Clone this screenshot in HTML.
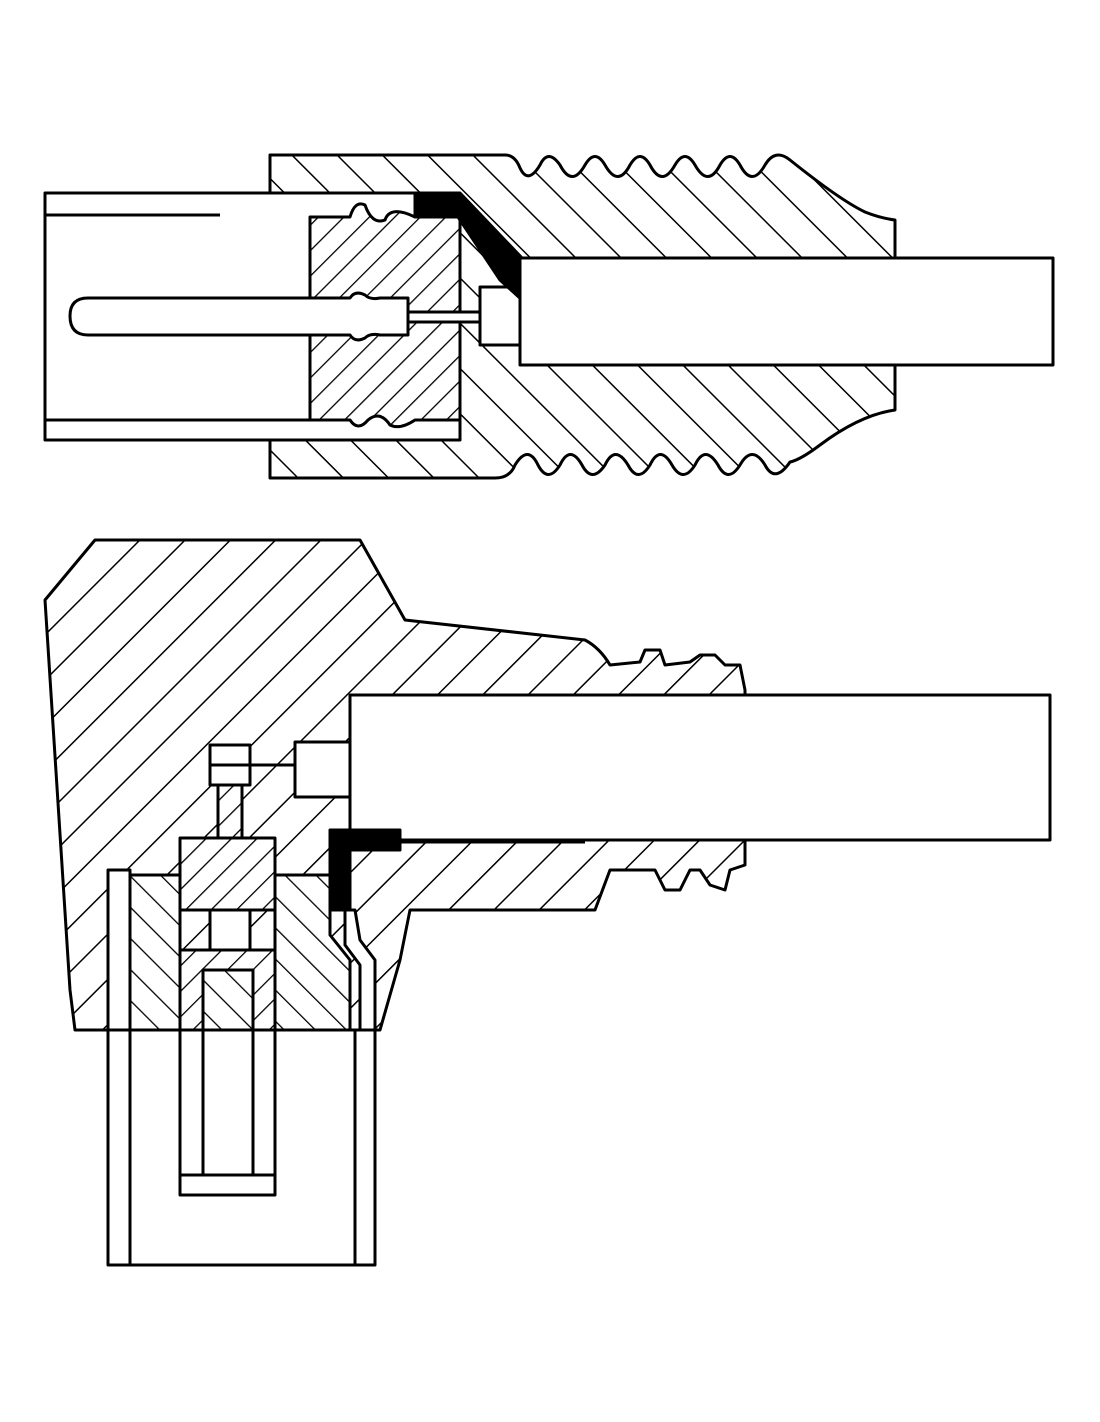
<!DOCTYPE html>
<html><head><meta charset="utf-8"><style>html,body{margin:0;padding:0;background:#fff}svg{display:block}</style></head>
<body>
<svg width="1100" height="1422" viewBox="0 0 1100 1422" xmlns="http://www.w3.org/2000/svg">
<defs>
<pattern id="bs" width="32" height="32" patternUnits="userSpaceOnUse" patternTransform="rotate(-45)"><rect width="32" height="32" fill="#fff"/><line x1="0" y1="0" x2="0" y2="32" stroke="#000" stroke-width="3"/></pattern>
<pattern id="fs" width="32" height="32" patternUnits="userSpaceOnUse" patternTransform="rotate(45)"><rect width="32" height="32" fill="#fff"/><line x1="0" y1="0" x2="0" y2="32" stroke="#000" stroke-width="3"/></pattern>
<pattern id="fs2" width="18" height="18" patternUnits="userSpaceOnUse" patternTransform="rotate(45)"><rect width="18" height="18" fill="#fff"/><line x1="0" y1="0" x2="0" y2="18" stroke="#000" stroke-width="2.6"/></pattern>
<pattern id="bs2" width="22" height="22" patternUnits="userSpaceOnUse" patternTransform="rotate(-45)"><rect width="22" height="22" fill="#fff"/><line x1="0" y1="0" x2="0" y2="22" stroke="#000" stroke-width="2.6"/></pattern>
</defs>
<g stroke="#000" stroke-width="3" stroke-linejoin="round">
<!-- TOP CONNECTOR -->
<path fill="url(#bs)" d="M270,155 L505,155 Q515,155 520,168 Q528,185 540,165 Q548,148 560,165 Q572,188 585,165 Q595,148 605,165 Q618,188 630,165 Q640,148 650,165 Q662,188 675,165 Q685,148 695,165 Q708,188 720,165 Q730,148 740,165 Q752,188 765,165 Q775,148 790,160 Q840,200 865,212 Q880,218 895,220 L895,410 Q860,415 820,445 Q800,460 790,462 Q775,484 765,465 Q752,444 740,465 Q728,484 718,465 Q705,444 695,465 Q683,484 672,465 Q660,444 650,465 Q638,484 628,465 Q615,444 605,465 Q592,484 582,465 Q570,444 560,465 Q548,484 538,465 Q528,444 515,465 Q510,478 495,478 L270,478 Z"/>
<path fill="#fff" d="M45,193 L415,193 L415,217 L460,217 L460,440 L45,440 Z"/>
<path fill="url(#fs2)" d="M310,217 L350,217 Q355,200 365,205 Q372,225 385,220 Q390,205 415,217 L460,217 L460,420 L415,420 Q400,430 390,425 Q380,410 368,420 Q358,432 350,420 L310,420 Z"/>
<path fill="#fff" d="M88,298 L350,298 Q355,290 365,295 Q370,300 380,298 L408,298 L408,335 L380,335 Q370,333 365,338 Q355,343 350,335 L88,335 Q70,335 70,316 Q70,298 88,298 Z"/>
<rect x="408" y="312" width="72" height="10" fill="#fff"/>
<rect x="480" y="287" width="42" height="58" fill="#fff"/>
<path fill="#000" d="M415,193 L460,193 L522,258 L522,300 L500,280 L458,217 L415,217 Z"/>
<rect x="520" y="258" width="533" height="107" fill="#fff"/>
<line x1="45" y1="215" x2="220" y2="215"/>
<line x1="45" y1="420" x2="310" y2="420"/>
<!-- BOTTOM CONNECTOR -->
<path fill="url(#fs)" d="M45,600 L95,540 L360,540 L405,620 L585,640 Q600,648 610,665 L640,662 L645,650 L660,650 L665,665 L690,662 L700,655 L715,655 L725,665 L740,665 L745,690 L745,865 L730,870 L725,890 L710,885 L700,870 L690,870 L680,890 L665,890 L655,870 L610,870 L595,910 L410,910 L400,960 L380,1030 L75,1030 L70,990 Z"/>
<rect x="350" y="695" width="700" height="145" fill="#fff"/>
<rect x="295" y="742" width="55" height="55" fill="#fff"/>
<rect x="210" y="745" width="40" height="40" fill="#fff"/>
<line x1="210" y1="765" x2="295" y2="765"/>
<path fill="url(#fs2)" d="M218,785 L242,785 L242,838 L218,838 Z"/>
<path fill="#fff" d="M108,870 L130,870 L130,1030 L108,1030 Z"/>
<path fill="url(#bs2)" d="M130,875 L180,875 L180,1030 L130,1030 Z"/>
<path fill="url(#bs2)" d="M275,875 L330,875 L330,935 L350,960 L350,1030 L275,1030 Z"/>
<path fill="#fff" d="M345,910 L355,910 L360,940 L375,960 L375,1030 L360,1030 L360,965 L345,945 Z"/>
<rect x="180" y="838" width="95" height="72" fill="url(#fs2)"/>
<rect x="210" y="910" width="40" height="40" fill="#fff"/>
<rect x="180" y="950" width="95" height="80" fill="url(#fs2)"/>
<rect x="203" y="970" width="50" height="60" fill="url(#bs2)"/>
<path fill="#000" d="M330,830 L400,830 L400,850 L350,850 L350,910 L330,910 Z"/>
<line x1="400" y1="842" x2="585" y2="842"/>
<rect x="108" y="1030" width="267" height="235" fill="#fff"/>
<line x1="130" y1="1030" x2="130" y2="1265"/>
<line x1="355" y1="1030" x2="355" y2="1265"/>
<rect x="180" y="1030" width="95" height="165" fill="#fff"/>
<line x1="203" y1="1030" x2="203" y2="1175"/>
<line x1="253" y1="1030" x2="253" y2="1175"/>
<line x1="180" y1="1175" x2="275" y2="1175"/>
</g>
</svg>
</body></html>
